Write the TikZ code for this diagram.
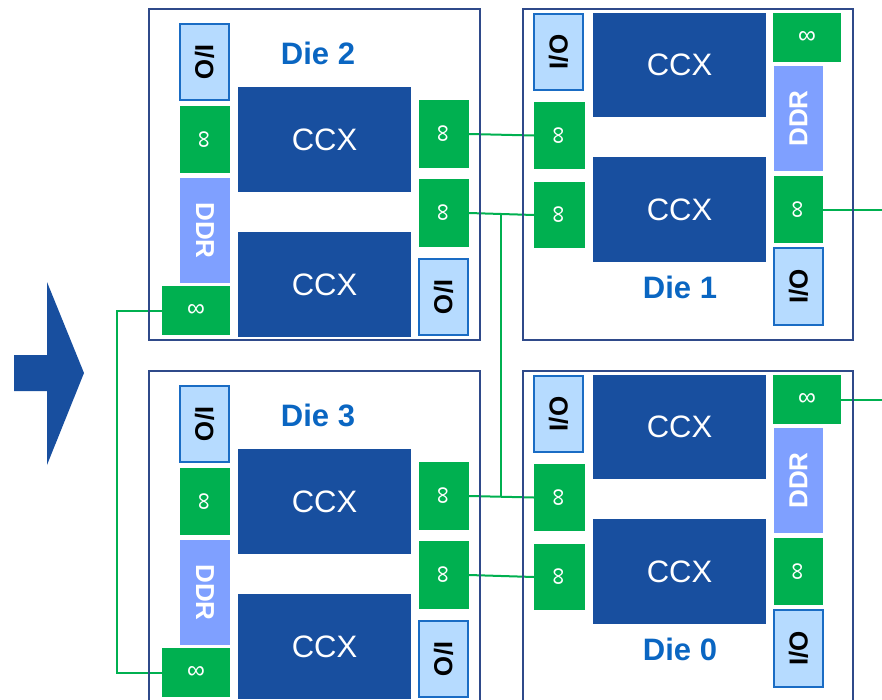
\documentclass[tikz,border=0pt]{standalone}
\usepackage{fontspec}
\setmainfont{Liberation Sans}
\usepackage{tikz}
\usetikzlibrary{positioning,backgrounds,calc}
\definecolor{ccxblue}{HTML}{184F9F}
\definecolor{linkgreen}{HTML}{00B050}
\definecolor{ddrblue}{HTML}{7FA0FF}
\definecolor{iofill}{HTML}{B6DBFF}
\definecolor{ioline}{HTML}{1A6CC4}
\definecolor{dietext}{HTML}{0A66C2}
\definecolor{dieline}{HTML}{2F4A8A}
\newcommand{\upinf}{\rotatebox{90}{∞}}
\newcommand{\vtext}[2]{\rotatebox{#1}{#2}}

\begin{document}
\begin{tikzpicture}[
  x=1pt, y=-1pt,
  sz/.style 2 args={minimum width=#1, minimum height=#2},
  blk/.style={anchor=north west, inner sep=0pt, outer sep=0pt},
  dieframe/.style={blk, draw=dieline, line width=2.2pt},
  dietitle/.style={font=\fontsize{31}{31}\selectfont\bfseries, text=dietext},
  ccx/.style={blk, fill=ccxblue, text=white, sz={173pt}{105pt},
              font=\fontsize{31}{31}\selectfont},
  link/.style={blk, fill=linkgreen, text=white, font=\fontsize{25}{25}\selectfont},
  ddr/.style={blk, fill=ddrblue, text=white, sz={50pt}{105pt},
              font=\fontsize{26}{26}\selectfont\bfseries},
  io/.style={blk, fill=iofill, draw=ioline, line width=2.2pt, sz={49pt}{76pt},
             font=\fontsize{26}{26}\selectfont\bfseries},
  wire/.style={draw=linkgreen, line width=2pt},
]
\useasboundingbox (0,0) rectangle (882,699);
\clip (0,0) rectangle (882,699);

%====================== ARROW ======================
\fill[ccxblue] (14,355) -- (47,355) -- (47,282) -- (84,373) -- (47,465)
               -- (47,391) -- (14,391) -- cycle;

%====================== DIE 2 ======================
\node[dieframe, sz={331pt}{331pt}] (d2) at (149,9) {};
\node[dietitle] (d2t) at (318,53) {Die 2};
\node[io] (d2io1) at (180,24) {\vtext{-90}{I/O}};
\node[link, sz={50pt}{67pt}] (d2g1) at (180,106) {\upinf};
\node[ddr] (d2ddr) at (180,178) {\vtext{-90}{DDR}};
\node[link, sz={68pt}{49pt}] (d2inf) at (162,286) {∞};
\node[ccx] (d2c1) at (238,87) {CCX};
\node[ccx] (d2c2) at (238,232) {CCX};
\node[link, sz={50pt}{68pt}] (d2g2) at (419,100) {\upinf};
\node[link, sz={50pt}{68pt}] (d2g3) at (419,179) {\upinf};
\node[io] (d2io2) at (419,259) {\vtext{-90}{I/O}};

%====================== DIE 1 ======================
\node[dieframe, sz={330pt}{331pt}] (d1) at (523,9) {};
\node[dietitle] (d1t) at (680,287) {Die 1};
\node[io] (d1io1) at (534,14) {\vtext{90}{I/O}};
\node[link, sz={51pt}{67pt}] (d1g1) at (534,102) {\upinf};
\node[link, sz={51pt}{66pt}] (d1g2) at (534,182) {\upinf};
\node[ccx, sz={173pt}{104pt}] (d1c1) at (593,13) {CCX};
\node[ccx] (d1c2) at (593,157) {CCX};
\node[link, sz={68pt}{49pt}] (d1inf) at (773,13) {∞};
\node[ddr, sz={49pt}{105pt}] (d1ddr) at (774,66) {\vtext{90}{DDR}};
\node[link, sz={49pt}{67pt}] (d1g3) at (774,176) {\upinf};
\node[io, sz={49pt}{77pt}] (d1io2) at (774,248) {\vtext{90}{I/O}};

%====================== DIE 3 ======================
\node[dieframe, sz={331pt}{331pt}] (d3) at (149,371) {};
\node[dietitle] (d3t) at (318,415) {Die 3};
\node[io] (d3io1) at (180,386) {\vtext{-90}{I/O}};
\node[link, sz={50pt}{67pt}] (d3g1) at (180,468) {\upinf};
\node[ddr] (d3ddr) at (180,540) {\vtext{-90}{DDR}};
\node[link, sz={68pt}{49pt}] (d3inf) at (162,648) {∞};
\node[ccx] (d3c1) at (238,449) {CCX};
\node[ccx] (d3c2) at (238,594) {CCX};
\node[link, sz={50pt}{68pt}] (d3g2) at (419,462) {\upinf};
\node[link, sz={50pt}{68pt}] (d3g3) at (419,541) {\upinf};
\node[io] (d3io2) at (419,621) {\vtext{-90}{I/O}};

%====================== DIE 0 ======================
\node[dieframe, sz={330pt}{331pt}] (d0) at (523,371) {};
\node[dietitle] (d0t) at (680,649) {Die 0};
\node[io] (d0io1) at (534,376) {\vtext{90}{I/O}};
\node[link, sz={51pt}{67pt}] (d0g1) at (534,464) {\upinf};
\node[link, sz={51pt}{66pt}] (d0g2) at (534,544) {\upinf};
\node[ccx, sz={173pt}{104pt}] (d0c1) at (593,375) {CCX};
\node[ccx] (d0c2) at (593,519) {CCX};
\node[link, sz={68pt}{49pt}] (d0inf) at (773,375) {∞};
\node[ddr, sz={49pt}{105pt}] (d0ddr) at (774,428) {\vtext{90}{DDR}};
\node[link, sz={49pt}{67pt}] (d0g3) at (774,538) {\upinf};
\node[io, sz={49pt}{77pt}] (d0io2) at (774,610) {\vtext{90}{I/O}};

%====================== LINKS ======================
\coordinate (lbus) at (117,0);
\coordinate (mbus) at (501,0);
\coordinate (redge) at (882,0);
\begin{pgfonlayer}{background}
\draw[wire] (d2g2.east) -- (d1g1.west);
\draw[wire] (d2g3.east) -- (d1g2.west);
\draw[wire] (d3g2.east) -- (d0g1.west);
\draw[wire] (d3g3.east) -- (d0g2.west);
\draw[wire] (d2g3.east -| mbus) -- (d3g2.east -| mbus);
\draw[wire] (d2inf.west) -- (d2inf.west -| lbus) -- (d3inf.west -| lbus) -- (d3inf.west);
\draw[wire] (d1g3.east) -- (d1g3.east -| redge);
\draw[wire] (d0inf.east) -- (d0inf.east -| redge);
\end{pgfonlayer}
\end{tikzpicture}
\end{document}
